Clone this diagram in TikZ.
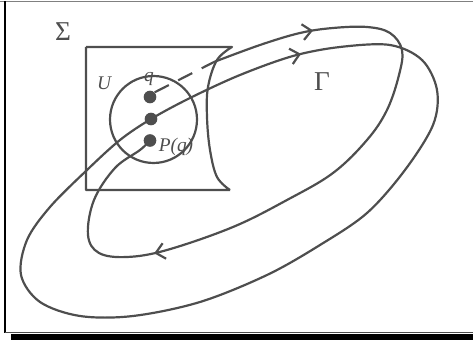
\documentclass[tikz,border=0pt]{standalone}
\usepackage{fontspec}
\setmainfont{Liberation Serif}
\usetikzlibrary{arrows.meta,decorations.markings}
\definecolor{lc}{RGB}{78,78,78}
\begin{document}
\begin{tikzpicture}[x=0.02cm,y=-0.02cm,
  orbit/.style={draw=lc,line width=1.25pt},
  dot/.style={circle,fill=lc,inner sep=0pt,minimum size=7.2pt},
  lbl/.style={text=lc,inner sep=0pt,font=\fontsize{11}{13}\selectfont\itshape},
  biglbl/.style={text=lc,inner sep=0pt,font=\fontsize{15.5}{17}\selectfont}]
\useasboundingbox (0,0) rectangle (473,340);
% frame
\draw[gray,line width=0.8pt] (0,1.5) -- (473,1.5);
\draw[black,line width=0.8pt] (5,1.5) -- (5,333);
\draw[black!70,line width=0.4pt] (5,332.3) -- (473,332.3);
\fill[black] (11,334) rectangle (473,340);
% section Sigma
\draw[orbit,line join=round] (86,47) -- (86,190) -- (230,190)
  plot[smooth,tension=0.6] coordinates {(230,190) (217,177) (210,150) (207,117) (208,87) (217,60) (232,47)}
  -- (86,47);
% neighbourhood U
\draw[orbit] (153.5,119.5) circle[radius=0.87cm];
% dots
\node[dot] (qd) at (150,97) {};
\node[dot] (md) at (151,119) {};
\node[dot] (pd) at (150,140.5) {};
\coordinate (e) at (214,62);
% dashed piece
\draw[orbit,dash pattern=on 9pt off 6pt] (qd.north east) -- (e);
% trajectory from q to P(q)
\draw[orbit,postaction={decorate},decoration={markings,
   mark=at position 0.14 with {\arrow[lc]{Straight Barb[length=5pt,width=9pt]}},
   mark=at position 0.735 with {\arrow[lc]{Straight Barb[length=5pt,width=9pt]}}}]
  plot[smooth,tension=0.6] coordinates {(214,62) (260,45) (300,33) (333,28) (367,27) (390,33) (402,50) (399,75) (387,110) (367,140) (333,173) (287,200) (233,227) (167,250) (127,257) (99,253) (88,235) (94,200) (115,168) (140,150) (150,140.5)};
% periodic orbit Gamma
\draw[orbit,postaction={decorate},decoration={markings,
   mark=at position 0.112 with {\arrow[lc]{Straight Barb[length=5pt,width=9pt]}}}]
  plot[smooth cycle,tension=0.55] coordinates {(151,119) (190,98) (240,75) (293,56) (340,47) (390,45) (422,60) (437,90) (433,125) (405,170) (367,213) (320,245) (267,275) (200,302) (133,316) (80,316) (40,302) (21,275) (27,240) (50,207) (87,170) (120,140)};
% labels
\node[biglbl] (sig) at (63,32) {Σ};
\node[biglbl] (gam) at (322,82) {Γ};
\node[lbl] (ul) at (104,83) {U};
\node[lbl] (ql) at (149,79) {q};
\node[lbl] (pl) at (176,147) {P(q)};
\end{tikzpicture}
\end{document}
